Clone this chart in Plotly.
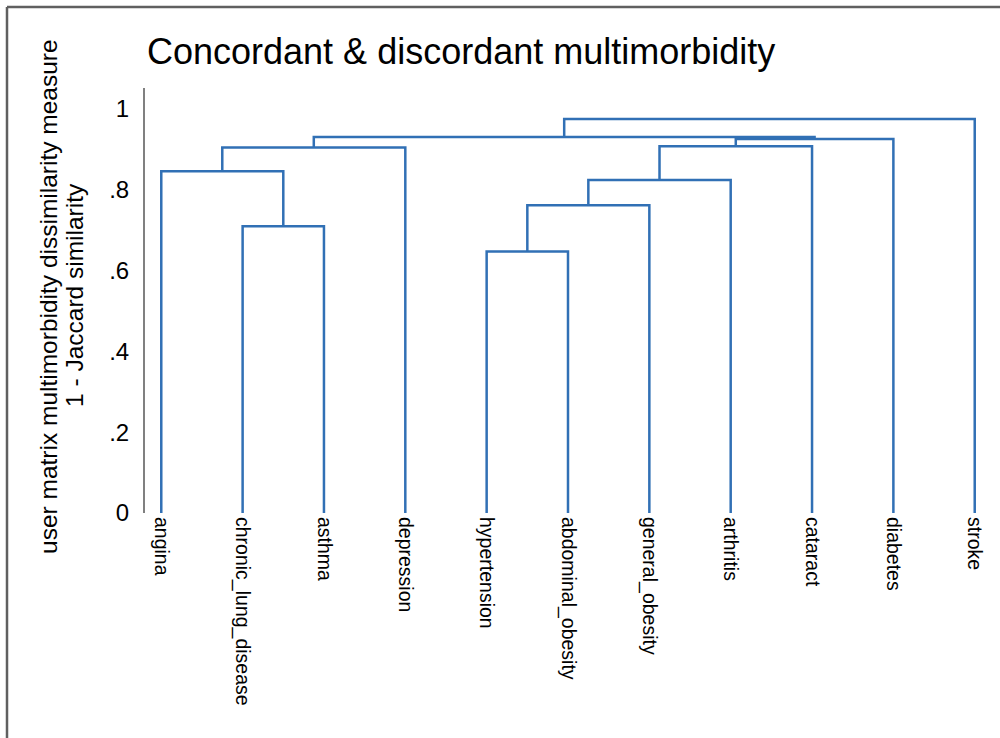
import plotly.graph_objects as go

# Leaf order along the horizontal axis
leaves = ["angina", "chronic_lung_disease", "asthma", "depression",
          "hypertension", "abdominal_obesity", "general_obesity",
          "arthritis", "cataract", "diabetes", "stroke"]

# Agglomeration steps: (left member, right member, dissimilarity)
# members are leaf names or "c<k>" for the cluster built at step k
merge_left = ["chronic_lung_disease", "angina", "c1", "hypertension", "c3",
              "c4", "c5", "c6", "c2", "c8"]
merge_right = ["asthma", "c0", "depression", "abdominal_obesity",
               "general_obesity", "arthritis", "cataract", "diabetes",
               "c7", "stroke"]
merge_height = [0.710, 0.846, 0.905, 0.647, 0.762, 0.824, 0.908, 0.926,
                0.931, 0.975]

ytick_vals = [0, 0.2, 0.4, 0.6, 0.8, 1]
ytick_text = ["0", ".2", ".4", ".6", ".8", "1"]

LINE = "#3170b5"
FONT = "Liberation Sans, Arial, sans-serif"

# position / height of every node
pos = {name: (float(i), 0.0) for i, name in enumerate(leaves)}
xs, ys = [], []
for k, (a, b, h) in enumerate(zip(merge_left, merge_right, merge_height)):
    xa, ha = pos[a]
    xb, hb = pos[b]
    xs += [xa, xa, xb, xb, None]
    ys += [ha, h, h, hb, None]
    pos[f"c{k}"] = ((xa + xb) / 2, h)

fig = go.Figure()
fig.add_trace(go.Scatter(x=xs, y=ys, mode="lines",
                         line=dict(color=LINE, width=2.5),
                         hoverinfo="skip", showlegend=False))

fig.update_layout(
    width=1000, height=738,
    margin=dict(l=145, r=9, t=88, b=225),
    paper_bgcolor="white", plot_bgcolor="white",
    font=dict(family=FONT, color="black"),
    title=dict(text="Concordant & discordant multimorbidity",
               x=147 / 1000, xref="container", xanchor="left",
               y=1 - 51 / 738, yref="container", yanchor="middle",
               font=dict(size=36, family=FONT, color="black")),
    xaxis=dict(range=[-0.2, len(leaves) - 0.8],
               tickmode="array", tickvals=list(range(len(leaves))),
               ticktext=leaves, tickangle=90,
               tickfont=dict(size=19.5, family=FONT, color="black"),
               showgrid=False, zeroline=False, showline=False, ticks="",
               ticklabelstandoff=3),
    yaxis=dict(range=[0, 1.052],
               tickmode="array", tickvals=ytick_vals, ticktext=ytick_text,
               tickfont=dict(size=24, family=FONT, color="black"),
               showgrid=False, zeroline=False, showline=True,
               linecolor="#808080", linewidth=2, ticks="",
               ticklabelstandoff=9),
)

# two-line axis title
fig.add_annotation(text="user matrix multimorbidity dissimilarity measure",
                   xref="paper", yref="paper", x=(48 - 145) / 846,
                   y=(513 - 297) / 425, textangle=-90, showarrow=False,
                   xanchor="center", yanchor="middle",
                   font=dict(size=24.5, family=FONT, color="black"))
fig.add_annotation(text="1 - Jaccard similarity",
                   xref="paper", yref="paper", x=(74 - 145) / 846,
                   y=(513 - 295) / 425, textangle=-90, showarrow=False,
                   xanchor="center", yanchor="middle",
                   font=dict(size=24.5, family=FONT, color="black"))

# outer frame (top and left edges)
fig.add_shape(type="line", xref="paper", yref="paper",
              x0=(7 - 145) / 846, x1=(1010 - 145) / 846,
              y0=(513 - 7) / 425, y1=(513 - 7) / 425,
              line=dict(color="#606060", width=2.5))
fig.add_shape(type="line", xref="paper", yref="paper",
              x0=(7 - 145) / 846, x1=(7 - 145) / 846,
              y0=(513 - 7) / 425, y1=(513 - 750) / 425,
              line=dict(color="#606060", width=2.5))

fig.write_html("out.html")
